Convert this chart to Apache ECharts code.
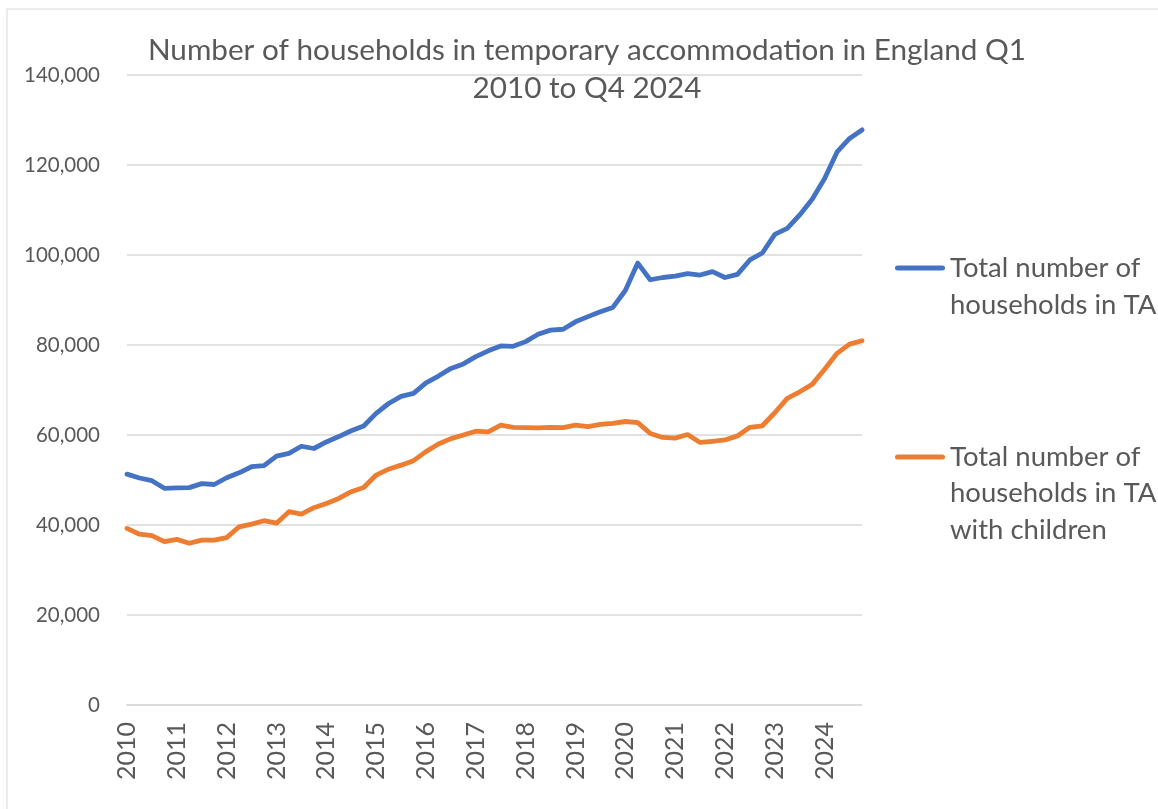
<!DOCTYPE html>
<html>
<head>
<meta charset="utf-8">
<title>Temporary accommodation</title>
<script src="https://cdn.jsdelivr.net/npm/echarts@6/dist/echarts.min.js"></script>
<style>
	html, body { margin: 0; padding: 0; background: #fff; }
	#main { width: 1158px; height: 809px; }
</style>
</head>
<body>
<div id="main"></div>
<script>
	// quarters Q1 2010 .. Q4 2024
	var years = [ 2010, 2011, 2012, 2013, 2014, 2015, 2016, 2017, 2018, 2019, 2020, 2021, 2022, 2023, 2024 ];
	var quarters = [];
	years.forEach(function(y) {
		for (var q = 1; q <= 4; q++) {
			quarters.push(y + ' Q' + q);
		}
	});

	var totalTA = [ 51300, 50450, 49850, 48150, 48250, 48300, 49200, 49000, 50500, 51600,
		52950, 53200, 55300, 55900, 57500, 57000, 58450, 59650, 60950, 62000,
		64800, 67000, 68600, 69250, 71600, 73100, 74800, 75800, 77400, 78700,
		79800, 79700, 80750, 82400, 83300, 83500, 85150, 86300, 87400, 88350,
		92100, 98200, 94500, 95000, 95300, 95850, 95550, 96300, 95000, 95700,
		98900, 100450, 104600, 105900, 108900, 112400, 117000, 122900, 125900, 127800 ];

	var withChildren = [ 39250, 37950, 37650, 36300, 36800, 35950, 36650, 36650, 37200, 39600,
		40200, 40950, 40400, 42950, 42400, 43850, 44800, 45900, 47400, 48350,
		51100, 52400, 53300, 54300, 56300, 58000, 59200, 60000, 60850, 60700,
		62200, 61700, 61650, 61600, 61700, 61650, 62200, 61850, 62350, 62600,
		63000, 62750, 60350, 59450, 59300, 60100, 58350, 58600, 58900, 59800,
		61700, 62050, 64950, 68150, 69600, 71250, 74600, 78150, 80200, 80950 ];

	var yTicks = [ 0, 20000, 40000, 60000, 80000, 100000, 120000, 140000 ];

	var nameTotal = 'Total number of households in TA';
	var nameChildren = 'Total number of households in TA with children';

	var font = 'Lato, "Liberation Sans", sans-serif';
	var grey = '#595959';

	var myChart = echarts.init(document.getElementById('main'));

	// legend text wraps like the excel one
	function legendWrap(name) {
		if (name === nameTotal) return 'Total number of\nhouseholds in TA';
		return 'Total number of\nhouseholds in TA\nwith children';
	}

	// icon box as tall as the text block, bar drawn level with the first line
	function barIcon(lines, lh) {
		var h = lines * lh;
		var y = lh / 2 - 2.5;
		return 'path://M2.5,' + y + 'h45a2.5,2.5 0 0 1 0,5h-45a2.5,2.5 0 0 1 0,-5z' +
			'M0,0L0,0.01M50,' + h + 'L50,' + (h - 0.01);
	}

	function makeLegend(name, lines, lh, top) {
		return {
			data : [ name ],
			left : 895,
			top : top,
			padding : 0,
			itemWidth : 50,
			itemHeight : lines * lh,
			icon : barIcon(lines, lh),
			itemStyle : { borderWidth : 0 },
			formatter : legendWrap,
			textStyle : {
				fontFamily : font,
				fontSize : 27.5,
				color : grey,
				lineHeight : lh
			}
		};
	}

	var option = {
		backgroundColor : '#fff',
		title : {
			text : 'Number of households in temporary accommodation in England Q1\n2010 to Q4 2024',
			left : 582,
			textAlign : 'center',
			top : 26,
			textStyle : {
				fontFamily : font,
				fontSize : 29.7,
				fontWeight : 'normal',
				color : grey,
				lineHeight : 38
			}
		},
		graphic : [ {
			type : 'rect',
			silent : true,
			shape : { x : 7, y : 9, width : 1200, height : 900 },
			style : { fill : 'none', stroke : '#D9D9D9', lineWidth : 1 }
		} ],
		legend : [ makeLegend(nameTotal, 2, 37, 249.5), makeLegend(nameChildren, 3, 36.5, 438.75) ],
		grid : {
			left : 127,
			right : 296,
			top : 75,
			bottom : 104,
			containLabel : false
		},
		xAxis : {
			type : 'category',
			data : quarters,
			boundaryGap : false,
			axisLine : { lineStyle : { color : '#D9D9D9', width : 1.5 } },
			axisTick : { show : false },
			axisLabel : {
				interval : 3,
				rotate : 90,
				margin : 17,
				fontFamily : font,
				fontSize : 25,
				color : grey,
				formatter : function(v) {
					return v.slice(0, 4);
				}
			}
		},
		yAxis : {
			type : 'value',
			min : yTicks[0],
			max : yTicks[yTicks.length - 1],
			interval : yTicks[1] - yTicks[0],
			axisLine : { show : false },
			axisTick : { show : false },
			splitLine : { lineStyle : { color : '#D9D9D9', width : 1.5 } },
			axisLabel : {
				margin : 27,
				fontFamily : font,
				fontSize : 20.5,
				color : grey,
				formatter : function(v) {
					return v.toLocaleString('en-GB');
				}
			}
		},
		series : [ {
			name : nameTotal,
			type : 'line',
			data : totalTA,
			symbol : 'none',
			color : '#4472C4',
			lineStyle : { width : 4.8, cap : 'round', join : 'round' }
		}, {
			name : nameChildren,
			type : 'line',
			data : withChildren,
			symbol : 'none',
			color : '#ED7D31',
			lineStyle : { width : 4.8, cap : 'round', join : 'round' }
		} ]
	};

	myChart.setOption(option);
</script>
</body>
</html>
